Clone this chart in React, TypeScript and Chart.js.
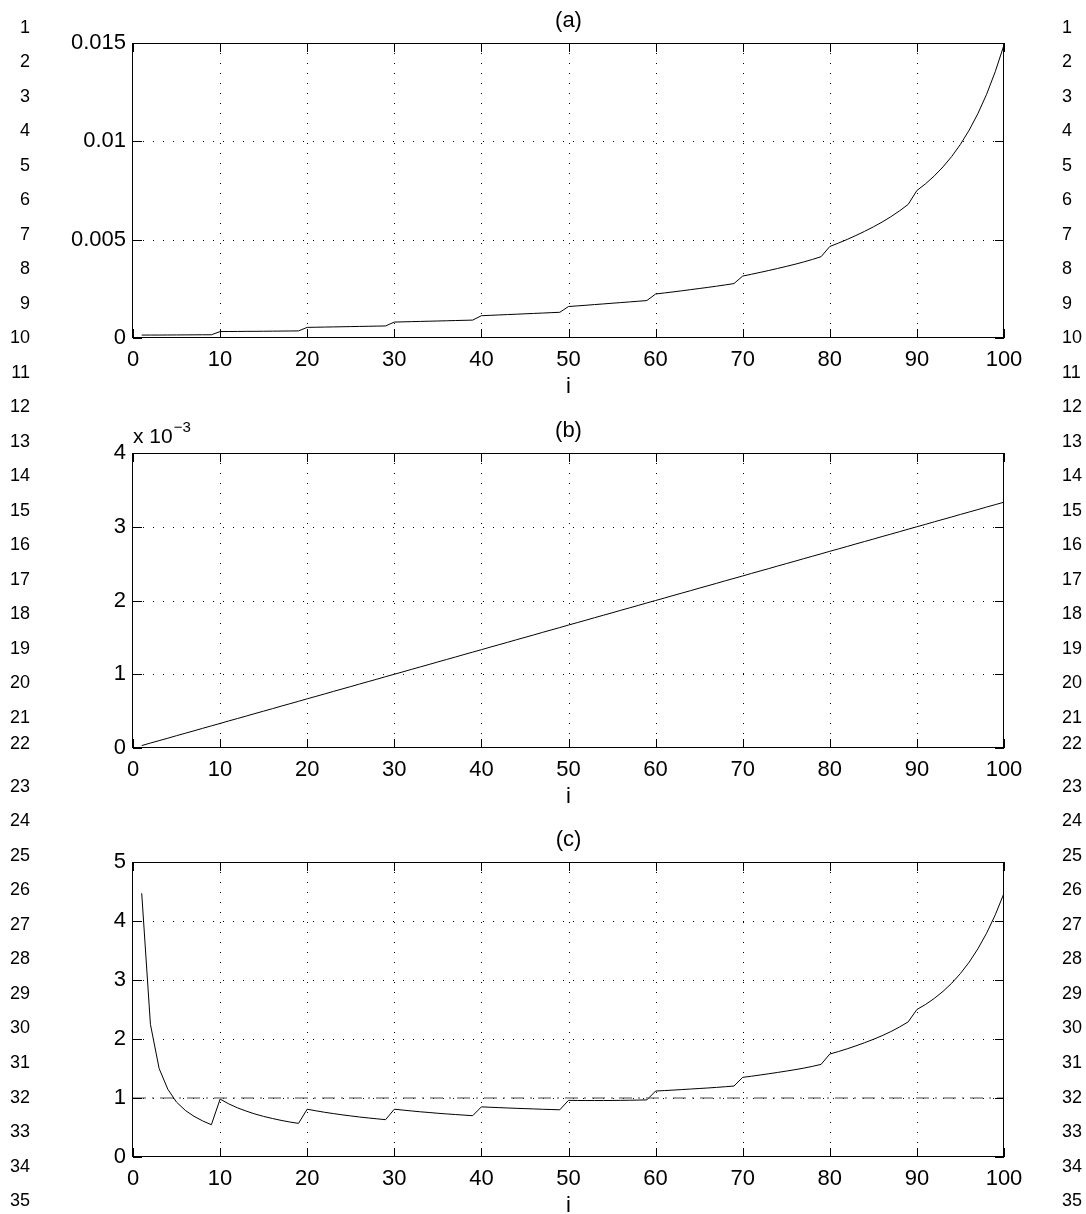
import React, { useEffect, useRef } from 'react';
import { Chart, registerables } from 'chart.js';

Chart.register(...registerables);

// ---------------- data ----------------
const iValues: number[] = Array.from({ length: 100 }, (_, k) => k + 1);

// panel (a) values
const aValues: number[] = [
  0.149e-3, 0.150e-3, 0.150e-3, 0.153e-3, 0.155e-3, 0.158e-3, 0.161e-3, 0.163e-3, 0.164e-3,
  0.327e-3, 0.330e-3, 0.333e-3, 0.337e-3, 0.340e-3, 0.344e-3, 0.348e-3, 0.352e-3, 0.356e-3, 0.361e-3,
  0.540e-3, 0.548e-3, 0.556e-3, 0.564e-3, 0.572e-3, 0.580e-3, 0.588e-3, 0.596e-3, 0.604e-3, 0.612e-3,
  0.810e-3, 0.821e-3, 0.832e-3, 0.843e-3, 0.854e-3, 0.865e-3, 0.876e-3, 0.888e-3, 0.899e-3, 0.910e-3,
  1.133e-3, 1.152e-3, 1.172e-3, 1.191e-3, 1.210e-3, 1.230e-3, 1.249e-3, 1.268e-3, 1.288e-3, 1.307e-3,
  1.600e-3, 1.632e-3, 1.664e-3, 1.700e-3, 1.733e-3, 1.767e-3, 1.801e-3, 1.835e-3, 1.869e-3, 1.904e-3,
  2.236e-3, 2.290e-3, 2.344e-3, 2.400e-3, 2.458e-3, 2.515e-3, 2.574e-3, 2.635e-3, 2.700e-3, 2.767e-3,
  3.150e-3, 3.240e-3, 3.336e-3, 3.433e-3, 3.535e-3, 3.640e-3, 3.749e-3, 3.866e-3, 3.994e-3, 4.134e-3,
  4.653e-3, 4.828e-3, 5.013e-3, 5.212e-3, 5.424e-3, 5.650e-3, 5.894e-3, 6.163e-3, 6.462e-3, 6.794e-3,
  7.500e-3, 7.844e-3, 8.243e-3, 8.702e-3, 9.231e-3, 9.848e-3, 10.566e-3, 11.407e-3, 12.390e-3, 13.547e-3,
  14.900e-3,
];

// panel (b) values, in units of 10^-3
const bValues: number[] = [
  0.033, 0.067, 0.100, 0.133, 0.167, 0.200, 0.233, 0.267, 0.300, 0.333,
  0.367, 0.400, 0.433, 0.467, 0.500, 0.533, 0.567, 0.600, 0.633, 0.667,
  0.700, 0.733, 0.767, 0.800, 0.833, 0.867, 0.900, 0.933, 0.967, 1.000,
  1.033, 1.067, 1.100, 1.133, 1.167, 1.200, 1.233, 1.267, 1.300, 1.333,
  1.367, 1.400, 1.433, 1.467, 1.500, 1.533, 1.567, 1.600, 1.633, 1.667,
  1.700, 1.733, 1.767, 1.800, 1.833, 1.867, 1.900, 1.933, 1.967, 2.000,
  2.033, 2.067, 2.100, 2.133, 2.167, 2.200, 2.233, 2.267, 2.300, 2.333,
  2.367, 2.400, 2.433, 2.467, 2.500, 2.533, 2.567, 2.600, 2.633, 2.667,
  2.700, 2.733, 2.767, 2.800, 2.833, 2.867, 2.900, 2.933, 2.967, 3.000,
  3.033, 3.067, 3.100, 3.133, 3.167, 3.200, 3.233, 3.267, 3.300, 3.333,
];

// panel (c) values
const cValues: number[] = [
  4.47, 2.25, 1.50, 1.148, 0.93, 0.79, 0.69, 0.611, 0.547,
  0.981, 0.900, 0.833, 0.778, 0.729, 0.688, 0.653, 0.621, 0.593, 0.570,
  0.810, 0.783, 0.758, 0.736, 0.715, 0.696, 0.678, 0.662, 0.647, 0.633,
  0.810, 0.795, 0.780, 0.766, 0.754, 0.741, 0.730, 0.720, 0.710, 0.700,
  0.850, 0.843, 0.837, 0.831, 0.825, 0.820, 0.815, 0.809, 0.805, 0.800,
  0.960, 0.958, 0.957, 0.957, 0.957, 0.958, 0.960, 0.962, 0.965, 0.968,
  1.118, 1.126, 1.134, 1.143, 1.152, 1.161, 1.170, 1.180, 1.191, 1.203,
  1.350, 1.369, 1.390, 1.411, 1.433, 1.456, 1.480, 1.506, 1.536, 1.570,
  1.745, 1.788, 1.834, 1.884, 1.937, 1.994, 2.056, 2.125, 2.203, 2.290,
  2.500, 2.586, 2.688, 2.807, 2.946, 3.110, 3.302, 3.528, 3.793, 4.105,
  4.470,
];

// reference line in (c)
const refLineX: number[] = [0, 100];
const refLineY: number[] = [1, 1];

const aTickLabels: string[] = ['0', '0.005', '0.01', '0.015'];
const bTickLabels: string[] = ['0', '1', '2', '3', '4'];
const cTickLabels: string[] = ['0', '1', '2', '3', '4', '5'];
const titles: string[] = ['(a)', '(b)', '(c)'];
const xLabel = 'i';
const lineNumbers: number[] = Array.from({ length: 35 }, (_, k) => k + 1);

// ---------------- styling / layout ----------------
const FONT = '"Liberation Sans", Arial, Helvetica, sans-serif';
const W = 1086;
const PLOT_LEFT = 133;
const PLOT_RIGHT = 1004;

const matlabAxes = {
  id: 'matlabAxes',
  beforeDatasetsDraw(chart: any) {
    const { ctx, chartArea: ca, scales } = chart;
    const x = scales.x;
    const y = scales.y;
    ctx.save();
    ctx.strokeStyle = '#000';
    ctx.lineWidth = 1;
    ctx.setLineDash([1, 9]);
    x.ticks.forEach((t: any) => {
      if (t.value <= x.min || t.value >= x.max) return;
      const p = Math.round(x.getPixelForValue(t.value)) + 0.5;
      ctx.beginPath();
      ctx.moveTo(p, ca.top);
      ctx.lineTo(p, ca.bottom);
      ctx.stroke();
    });
    y.ticks.forEach((t: any) => {
      if (t.value <= y.min || t.value >= y.max) return;
      const p = Math.round(y.getPixelForValue(t.value)) + 0.5;
      ctx.beginPath();
      ctx.moveTo(ca.left, p);
      ctx.lineTo(ca.right, p);
      ctx.stroke();
    });
    ctx.restore();
  },
  afterDatasetsDraw(chart: any) {
    const { ctx, chartArea: ca, scales } = chart;
    const x = scales.x;
    const y = scales.y;
    const TL = 9;
    ctx.save();
    ctx.strokeStyle = '#000';
    ctx.lineWidth = 1;
    ctx.setLineDash([]);
    ctx.beginPath();
    x.ticks.forEach((t: any) => {
      const p = Math.round(x.getPixelForValue(t.value)) + 0.5;
      ctx.moveTo(p, ca.bottom);
      ctx.lineTo(p, ca.bottom - TL);
      ctx.moveTo(p, ca.top);
      ctx.lineTo(p, ca.top + TL);
    });
    y.ticks.forEach((t: any) => {
      const p = Math.round(y.getPixelForValue(t.value)) + 0.5;
      ctx.moveTo(ca.left, p);
      ctx.lineTo(ca.left + TL, p);
      ctx.moveTo(ca.right, p);
      ctx.lineTo(ca.right - TL, p);
    });
    ctx.stroke();
    ctx.strokeRect(Math.round(ca.left) - 0.5, Math.round(ca.top) + 0.5, Math.round(ca.right - ca.left), Math.round(ca.bottom - ca.top) - 1);
    ctx.restore();
  },
  afterDraw(chart: any, _args: any, opts: any) {
    const { ctx, chartArea: ca } = chart;
    ctx.save();
    ctx.fillStyle = '#000';
    ctx.textBaseline = 'alphabetic';
    ctx.textAlign = 'center';
    ctx.font = `22px ${FONT}`;
    const cx = (ca.left + ca.right) / 2;
    if (opts.title) ctx.fillText(opts.title, cx, ca.top - 16);
    if (opts.xlabel) ctx.fillText(opts.xlabel, cx, ca.bottom + 55);
    if (opts.exponent) {
      ctx.textAlign = 'left';
      ctx.font = `21px ${FONT}`;
      const base = 'x 10';
      ctx.fillText(base, ca.left, ca.top - 10);
      const w = ctx.measureText(base).width;
      ctx.font = `15px ${FONT}`;
      ctx.fillText(opts.exponent, ca.left + w + 1, ca.top - 21);
    }
    ctx.restore();
  },
};

type PanelCfg = {
  top: number;
  height: number;
  plotTop: number;
  plotBottom: number;
  yMax: number;
  yStep: number;
  yLabels: string[];
  title: string;
  exponent?: string;
  datasets: any[];
};

function makeChart(canvas: HTMLCanvasElement, cfg: PanelCfg) {
  const localTop = cfg.plotTop - cfg.top;
  const xAxisH = cfg.height - (cfg.plotBottom - cfg.top);
  return new Chart(canvas, {
    type: 'line',
    data: { datasets: cfg.datasets },
    plugins: [matlabAxes as any],
    options: {
      animation: false,
      responsive: false,
      maintainAspectRatio: false,
      events: [],
      layout: { padding: { top: localTop, right: W - PLOT_RIGHT, left: 0, bottom: 0 } },
      plugins: {
        legend: { display: false },
        tooltip: { enabled: false },
        title: { display: false },
        matlabAxes: { title: cfg.title, xlabel: xLabel, exponent: cfg.exponent },
      } as any,
      scales: {
        x: {
          type: 'linear',
          min: 0,
          max: 100,
          grid: { display: false, drawTicks: false },
          border: { display: false },
          ticks: {
            stepSize: 10,
            autoSkip: false,
            maxRotation: 0,
            padding: 9,
            color: '#000',
            font: { family: FONT, size: 22 },
          },
          afterFit: (s: any) => {
            s.height = xAxisH;
          },
        },
        y: {
          type: 'linear',
          min: 0,
          max: cfg.yMax,
          grid: { display: false, drawTicks: false },
          border: { display: false },
          ticks: {
            stepSize: cfg.yStep,
            padding: 7,
            color: '#000',
            font: { family: FONT, size: 22 },
            callback: (v: any) => {
              const idx = Math.round(Number(v) / cfg.yStep);
              return cfg.yLabels[idx] ?? '';
            },
          },
          afterFit: (s: any) => {
            s.width = PLOT_LEFT;
          },
        },
      },
    } as any,
  });
}

const lineStyle = {
  borderColor: '#000',
  borderWidth: 1,
  pointRadius: 0,
  tension: 0,
  fill: false,
};

const panels = [
  { top: 0, height: 400, plotTop: 43, plotBottom: 338 },
  { top: 400, height: 405, plotTop: 453, plotBottom: 748 },
  { top: 805, height: 409, plotTop: 862, plotBottom: 1157 },
];

function lineNumberY(n: number): number {
  const y = 26.7 + (n - 1) * 34.51;
  return n === 22 ? 743 : y;
}

export default function App() {
  const refA = useRef<HTMLCanvasElement>(null);
  const refB = useRef<HTMLCanvasElement>(null);
  const refC = useRef<HTMLCanvasElement>(null);

  useEffect(() => {
    const charts: Chart[] = [];
    if (refA.current) {
      charts.push(
        makeChart(refA.current, {
          ...panels[0],
          yMax: 0.015,
          yStep: 0.005,
          yLabels: aTickLabels,
          title: titles[0],
          datasets: [{ ...lineStyle, data: iValues.map((x, k) => ({ x, y: aValues[k] })) }],
        })
      );
    }
    if (refB.current) {
      charts.push(
        makeChart(refB.current, {
          ...panels[1],
          yMax: 4,
          yStep: 1,
          yLabels: bTickLabels,
          title: titles[1],
          exponent: '\u22123',
          datasets: [{ ...lineStyle, data: iValues.map((x, k) => ({ x, y: bValues[k] })) }],
        })
      );
    }
    if (refC.current) {
      charts.push(
        makeChart(refC.current, {
          ...panels[2],
          yMax: 5,
          yStep: 1,
          yLabels: cTickLabels,
          title: titles[2],
          datasets: [
            {
              ...lineStyle,
              borderColor: '#444',
              borderDash: [13, 6, 2, 6],
              data: refLineX.map((x, k) => ({ x, y: refLineY[k] })),
            },
            { ...lineStyle, data: iValues.map((x, k) => ({ x, y: cValues[k] })) },
          ],
        })
      );
    }
    return () => charts.forEach((c) => c.destroy());
  }, []);

  const numStyle: React.CSSProperties = {
    position: 'absolute',
    font: `18px ${FONT}`,
    lineHeight: '20px',
    color: '#000',
    whiteSpace: 'nowrap',
  };

  return (
    <div style={{ position: 'absolute', left: 0, top: 0, width: W, height: 1214, background: '#fff', overflow: 'hidden' }}>
      {panels.map((p, k) => (
        <canvas
          key={k}
          ref={k === 0 ? refA : k === 1 ? refB : refC}
          width={W}
          height={p.height}
          style={{ position: 'absolute', left: 0, top: p.top, width: W, height: p.height }}
        />
      ))}
      {lineNumbers.map((n) => (
        <React.Fragment key={n}>
          <div style={{ ...numStyle, left: 0, width: 30, textAlign: 'right', top: lineNumberY(n) - 10 }}>{n}</div>
          <div style={{ ...numStyle, left: 1062, textAlign: 'left', top: lineNumberY(n) - 10 }}>{n}</div>
        </React.Fragment>
      ))}
    </div>
  );
}
